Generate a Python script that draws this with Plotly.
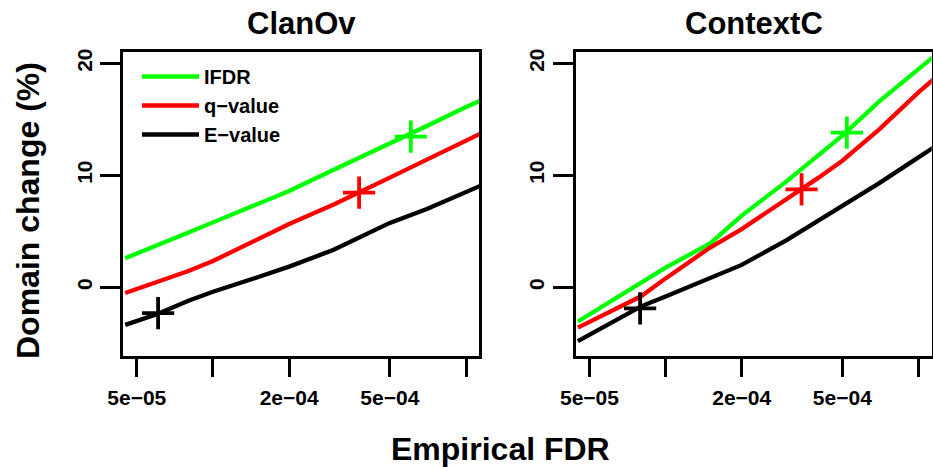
import numpy as np
import plotly.graph_objects as go

# ---- data ----
fdr = [4.5e-5, 6e-5, 8e-5, 1e-4, 1.5e-4, 2e-4, 3e-4, 4e-4, 5e-4, 7e-4, 1e-3, 1.15e-3]

clan_ifdr = [2.6, 3.7, 4.9, 5.8, 7.4, 8.6, 10.5, 11.8, 12.9, 14.4, 16.1, 16.7]
clan_q    = [-0.5, 0.5, 1.45, 2.35, 4.3, 5.65, 7.4, 8.7, 9.8, 11.4, 13.1, 13.75]
clan_e    = [-3.35, -2.4, -1.2, -0.4, 0.9, 1.85, 3.35, 4.7, 5.75, 7.0, 8.5, 9.1]

ctx_ifdr = [-3.05, -1.35, 0.4, 1.75, 3.92, 6.4, 9.44, 11.8, 13.55, 16.6, 19.5, 20.6]
ctx_q    = [-3.6, -2.2, -0.8, 0.8, 3.55, 5.2, 7.8, 9.75, 11.3, 14.1, 17.4, 18.6]
ctx_e    = [-4.8, -3.27, -1.7, -0.82, 0.8, 2.0, 4.2, 5.9, 7.2, 9.3, 11.6, 12.5]

# threshold markers (x, y) per panel
clan_marks_x = [6.05e-4, 3.78e-4, 6.07e-5]
clan_marks_y = [13.45, 8.45, -2.3]
ctx_marks_x = [5.21e-4, 3.45e-4, 7.93e-5]
ctx_marks_y = [13.82, 8.75, -1.88]

series_names = ["IFDR", "q\u2212value", "E\u2212value"]
colors = ["#00ff00", "#ff0000", "#000000"]
panel_titles = ["ClanOv", "ContextC"]

xtick_vals = [5e-5, 1e-4, 2e-4, 5e-4, 1e-3]
xtick_text = ["5e\u221205", "", "2e\u221204", "5e\u221204", ""]
ytick_vals = [0, 10, 20]

FONT = "Liberation Sans, Arial, Helvetica, sans-serif"
W, H = 933, 467

fig = go.Figure()

panels = [
    (clan_ifdr, clan_q, clan_e, clan_marks_x, clan_marks_y, "x", "y"),
    (ctx_ifdr, ctx_q, ctx_e, ctx_marks_x, ctx_marks_y, "x2", "y2"),
]
for pi, (a, b, c, mx, my, xa, ya) in enumerate(panels):
    for si, ys in enumerate([a, b, c]):
        fig.add_trace(go.Scatter(
            x=fdr, y=ys, mode="lines", name=series_names[si],
            line=dict(color=colors[si], width=4.3),
            xaxis=xa, yaxis=ya, showlegend=(pi == 0), legendrank=si + 1,
        ))
    for si in range(3):
        fig.add_trace(go.Scatter(
            x=[mx[si]], y=[my[si]], mode="markers",
            marker=dict(symbol="cross-thin", size=23,
                        line=dict(color=colors[si], width=3.8)),
            xaxis=xa, yaxis=ya, showlegend=False,
        ))

xdom1 = [123 / W, 479.3 / W]
xdom2 = [575.7 / W, 931.7 / W]
ydom = [(H - 356) / H, (H - 52) / H]
xr = [-4.3555, -2.9475]
yr = [-6.13, 21.01]

axis_common = dict(showline=True, linewidth=3, linecolor="black", mirror=True,
                   showgrid=False, zeroline=False, ticks="outside",
                   tickwidth=2.5, tickcolor="black", automargin=False,
                   tickfont=dict(family=FONT, size=21, color="black", weight="bold"))

xax = dict(axis_common, type="log", range=xr, tickmode="array",
           tickvals=xtick_vals, ticktext=xtick_text, ticklen=18,
           ticklabelstandoff=3)
yax = dict(axis_common, range=yr, tickmode="array", tickvals=ytick_vals,
           ticklen=20, tickangle=-90, ticklabelstandoff=0)

big = dict(family=FONT, size=31, color="black", weight="bold")
axt = dict(family=FONT, size=32, color="black", weight="bold")

fig.update_layout(
    width=W, height=H,
    margin=dict(l=0, r=0, t=0, b=0, autoexpand=False),
    paper_bgcolor="white", plot_bgcolor="white",
    xaxis=dict(xax, domain=xdom1, anchor="y"),
    yaxis=dict(yax, domain=ydom, anchor="x"),
    xaxis2=dict(xax, domain=xdom2, anchor="y2"),
    yaxis2=dict(yax, domain=ydom, anchor="x2"),
    showlegend=True,
    legend=dict(x=137 / W, y=1 - 57 / H, xanchor="left", yanchor="top",
                bgcolor="rgba(0,0,0,0)",
                font=dict(family=FONT, size=20, color="black", weight="bold"),
                tracegroupgap=0, itemwidth=57),
    annotations=[
        dict(text=panel_titles[0], x=(xdom1[0] + xdom1[1]) / 2, y=1 - 23 / H,
             xref="paper", yref="paper", showarrow=False,
             xanchor="center", yanchor="middle", font=big),
        dict(text=panel_titles[1], x=(xdom2[0] + xdom2[1]) / 2, y=1 - 23 / H,
             xref="paper", yref="paper", showarrow=False,
             xanchor="center", yanchor="middle", font=big),
        dict(text="Domain change (%)", x=28 / W, y=1 - 211 / H, textangle=-90,
             xref="paper", yref="paper", showarrow=False,
             xanchor="center", yanchor="middle", font=axt),
        dict(text="Empirical FDR", x=500 / W, y=1 - 449 / H,
             xref="paper", yref="paper", showarrow=False,
             xanchor="center", yanchor="middle", font=axt),
    ],
)

fig.write_html("out.html",
               config={"displayModeBar": False},
               post_script="document.body.style.margin='0';"
                           "document.body.style.overflow='hidden';")
